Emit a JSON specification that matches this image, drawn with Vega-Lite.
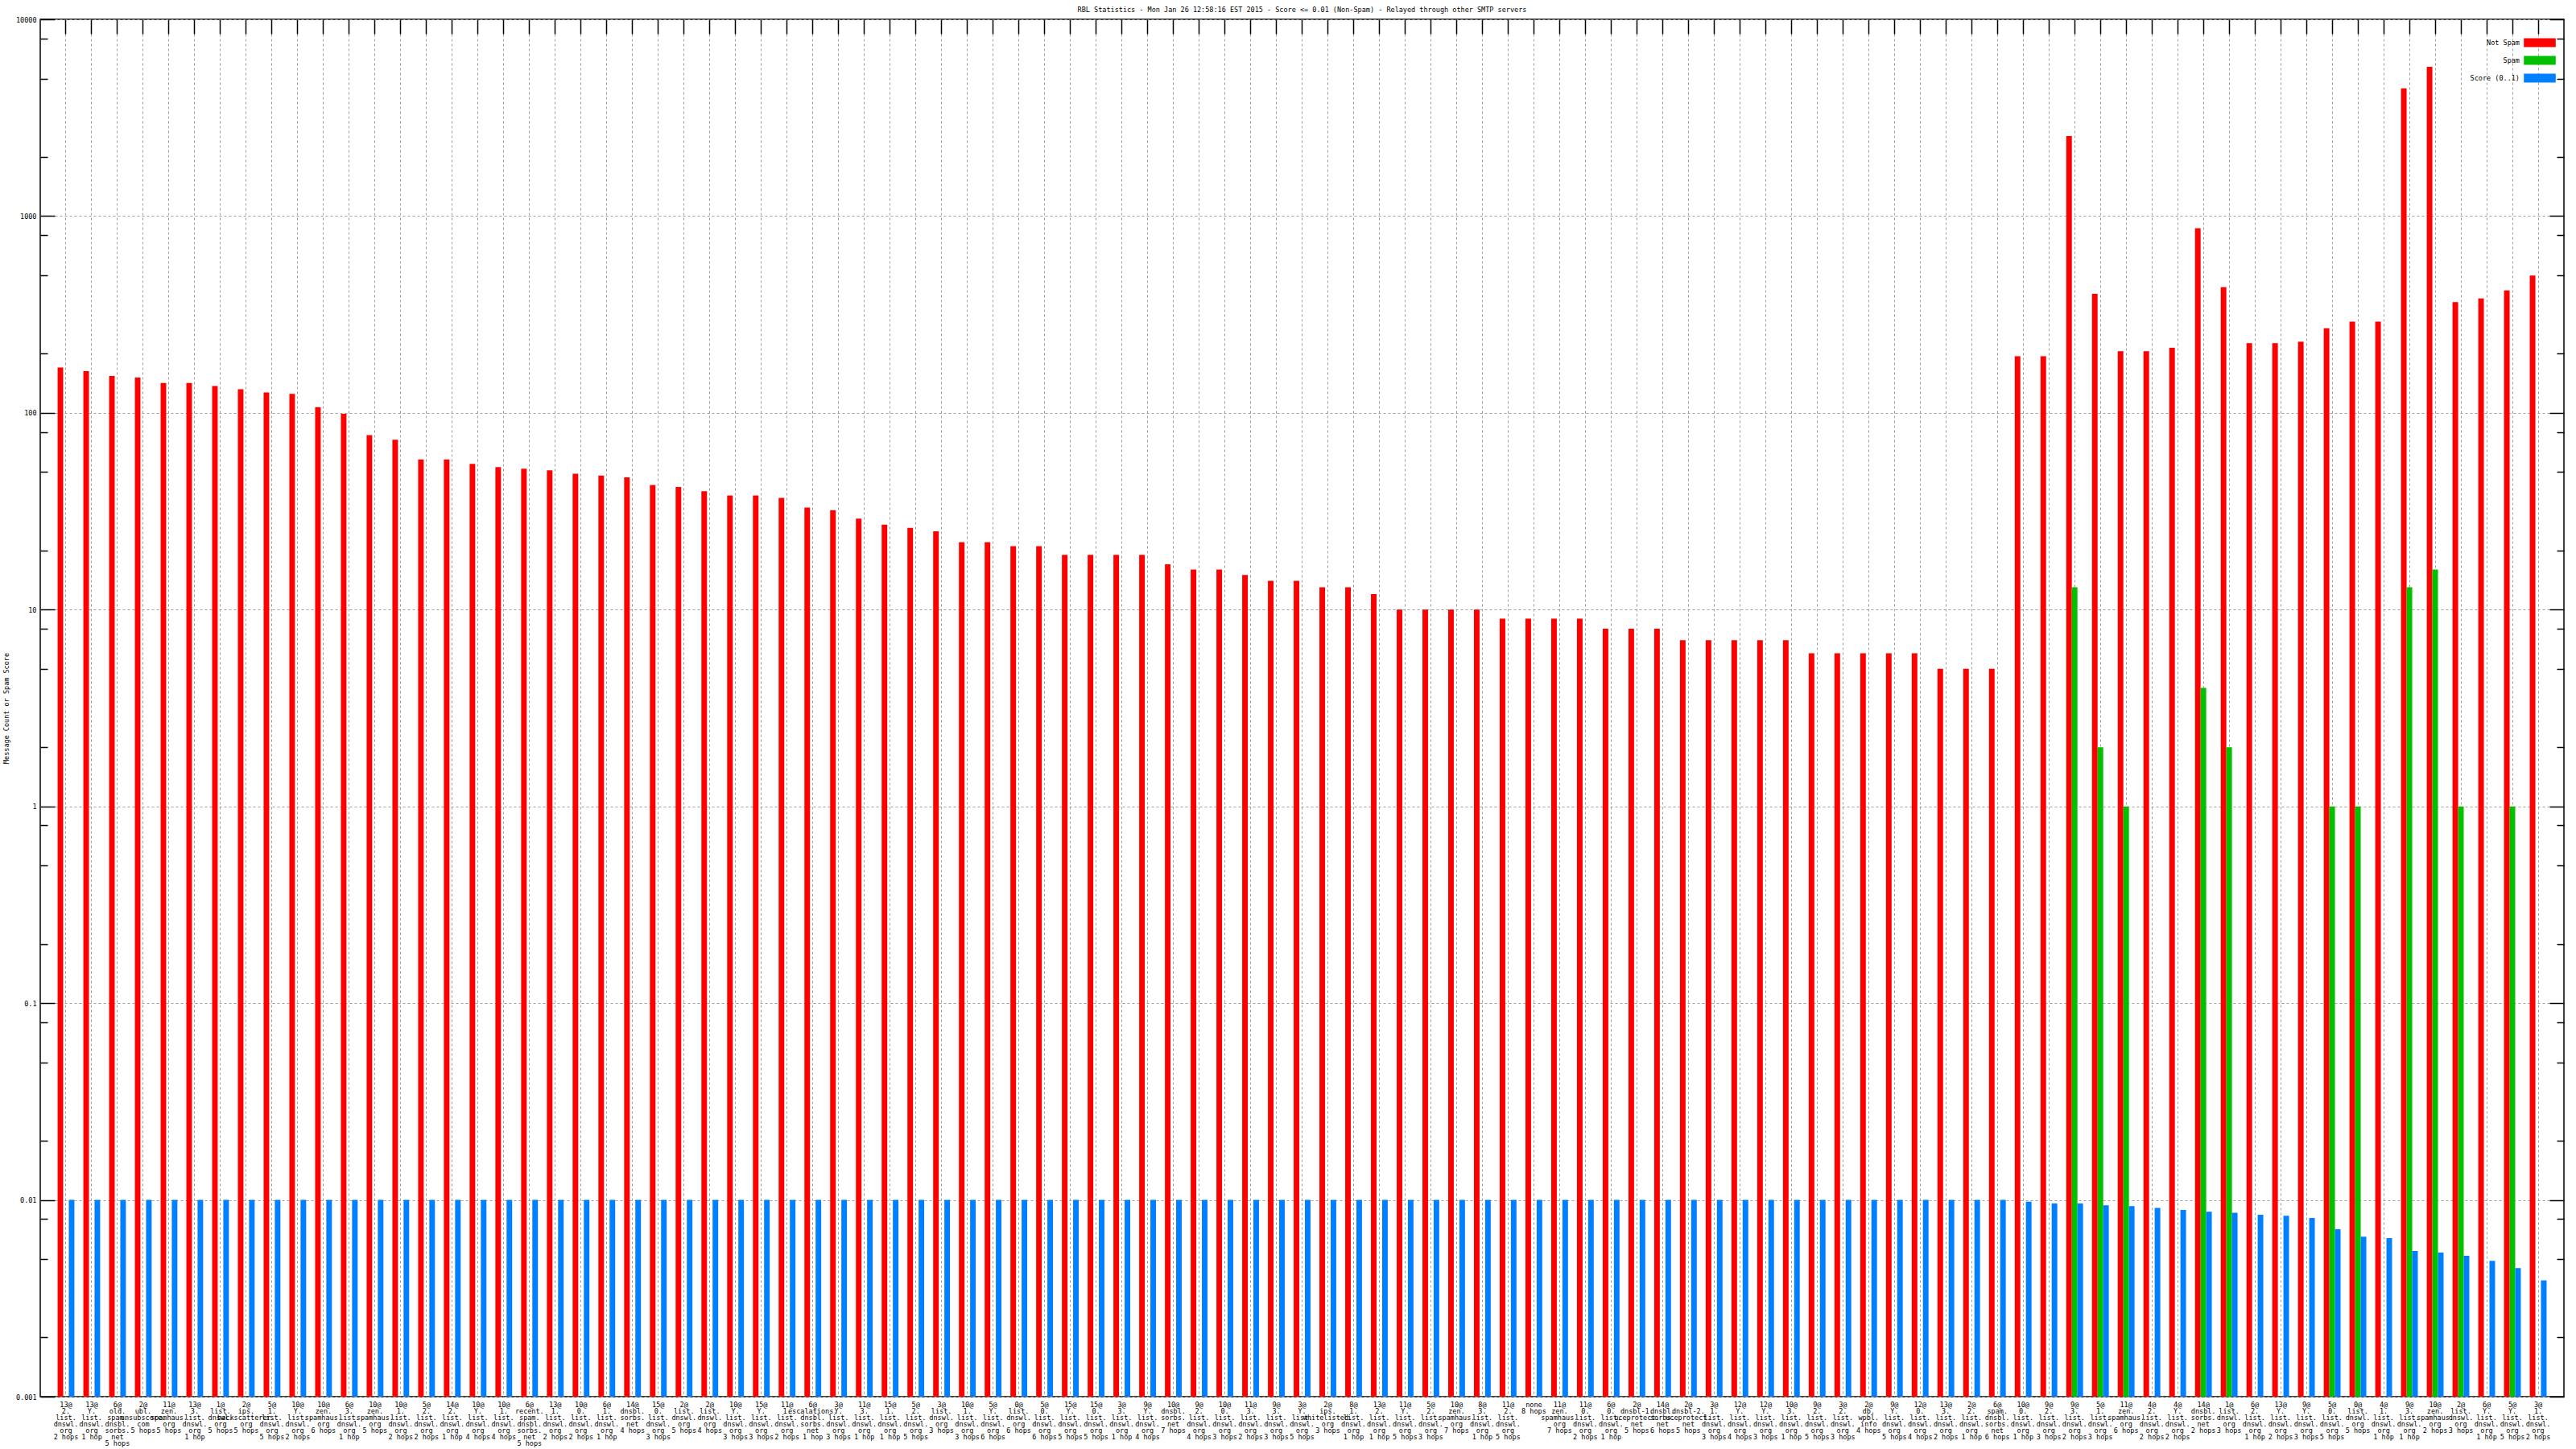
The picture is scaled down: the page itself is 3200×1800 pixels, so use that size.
{
  "$schema": "https://vega.github.io/schema/vega-lite/v6.json",
  "width": 3135,
  "height": 1711,
  "autosize": {"type": "none"},
  "padding": {"left": 50, "top": 24, "right": 15, "bottom": 65},
  "background": "white",
  "title": {"text": "RBL Statistics - Mon Jan 26 12:58:16 EST 2015 - Score <= 0.01 (Non-Spam) - Relayed through other SMTP servers", "anchor": "middle", "frame": "group", "baseline": "middle", "offset": 0, "dy": 0, "fontSize": 8.5, "fontWeight": "normal", "font": "DejaVu Sans Mono", "color": "black"},
  "data": {"values": [
    {"rbl": "13@|2.|list.|dnswl.|org|2 hops", "Not Spam": 170, "Score": 0.01},
    {"rbl": "13@|Y.|list.|dnswl.|org|1 hop", "Not Spam": 163, "Score": 0.01},
    {"rbl": "6@|old.|spam.|dnsbl.|sorbs.|net|5 hops", "Not Spam": 154, "Score": 0.01},
    {"rbl": "2@|ubl.|unsubscore.|com|5 hops", "Not Spam": 151, "Score": 0.01},
    {"rbl": "11@|zen.|spamhaus.|org|5 hops", "Not Spam": 142, "Score": 0.01},
    {"rbl": "13@|3.|list.|dnswl.|org|1 hop", "Not Spam": 142, "Score": 0.01},
    {"rbl": "1@|list.|dnswl.|org|5 hops", "Not Spam": 137, "Score": 0.01},
    {"rbl": "2@|ips.|backscatterer.|org|5 hops", "Not Spam": 132, "Score": 0.01},
    {"rbl": "5@|1.|list.|dnswl.|org|5 hops", "Not Spam": 127, "Score": 0.01},
    {"rbl": "10@|Y.|list.|dnswl.|org|2 hops", "Not Spam": 125, "Score": 0.01},
    {"rbl": "10@|zen.|spamhaus.|org|6 hops", "Not Spam": 107, "Score": 0.01},
    {"rbl": "6@|3.|list.|dnswl.|org|1 hop", "Not Spam": 99, "Score": 0.01},
    {"rbl": "10@|zen.|spamhaus.|org|5 hops", "Not Spam": 77, "Score": 0.01},
    {"rbl": "10@|1.|list.|dnswl.|org|2 hops", "Not Spam": 73, "Score": 0.01},
    {"rbl": "5@|2.|list.|dnswl.|org|2 hops", "Not Spam": 58, "Score": 0.01},
    {"rbl": "14@|2.|list.|dnswl.|org|1 hop", "Not Spam": 58, "Score": 0.01},
    {"rbl": "10@|Y.|list.|dnswl.|org|4 hops", "Not Spam": 55, "Score": 0.01},
    {"rbl": "10@|1.|list.|dnswl.|org|4 hops", "Not Spam": 53, "Score": 0.01},
    {"rbl": "6@|recent.|spam.|dnsbl.|sorbs.|net|5 hops", "Not Spam": 52, "Score": 0.01},
    {"rbl": "13@|1.|list.|dnswl.|org|2 hops", "Not Spam": 51, "Score": 0.01},
    {"rbl": "10@|0.|list.|dnswl.|org|2 hops", "Not Spam": 49, "Score": 0.01},
    {"rbl": "6@|1.|list.|dnswl.|org|1 hop", "Not Spam": 48, "Score": 0.01},
    {"rbl": "14@|dnsbl.|sorbs.|net|4 hops", "Not Spam": 47, "Score": 0.01},
    {"rbl": "15@|0.|list.|dnswl.|org|3 hops", "Not Spam": 43, "Score": 0.01},
    {"rbl": "2@|list.|dnswl.|org|5 hops", "Not Spam": 42, "Score": 0.01},
    {"rbl": "2@|list.|dnswl.|org|4 hops", "Not Spam": 40, "Score": 0.01},
    {"rbl": "10@|Y.|list.|dnswl.|org|3 hops", "Not Spam": 38, "Score": 0.01},
    {"rbl": "15@|Y.|list.|dnswl.|org|3 hops", "Not Spam": 38, "Score": 0.01},
    {"rbl": "11@|1.|list.|dnswl.|org|2 hops", "Not Spam": 37, "Score": 0.01},
    {"rbl": "6@|escalations.|dnsbl.|sorbs.|net|1 hop", "Not Spam": 33, "Score": 0.01},
    {"rbl": "3@|Y.|list.|dnswl.|org|3 hops", "Not Spam": 32, "Score": 0.01},
    {"rbl": "11@|3.|list.|dnswl.|org|1 hop", "Not Spam": 29, "Score": 0.01},
    {"rbl": "15@|1.|list.|dnswl.|org|1 hop", "Not Spam": 27, "Score": 0.01},
    {"rbl": "5@|2.|list.|dnswl.|org|5 hops", "Not Spam": 26, "Score": 0.01},
    {"rbl": "3@|list.|dnswl.|org|3 hops", "Not Spam": 25, "Score": 0.01},
    {"rbl": "10@|1.|list.|dnswl.|org|3 hops", "Not Spam": 22, "Score": 0.01},
    {"rbl": "5@|Y.|list.|dnswl.|org|6 hops", "Not Spam": 22, "Score": 0.01},
    {"rbl": "0@|list.|dnswl.|org|6 hops", "Not Spam": 21, "Score": 0.01},
    {"rbl": "5@|0.|list.|dnswl.|org|6 hops", "Not Spam": 21, "Score": 0.01},
    {"rbl": "15@|Y.|list.|dnswl.|org|5 hops", "Not Spam": 19, "Score": 0.01},
    {"rbl": "15@|0.|list.|dnswl.|org|5 hops", "Not Spam": 19, "Score": 0.01},
    {"rbl": "3@|3.|list.|dnswl.|org|1 hop", "Not Spam": 19, "Score": 0.01},
    {"rbl": "9@|Y.|list.|dnswl.|org|4 hops", "Not Spam": 19, "Score": 0.01},
    {"rbl": "10@|dnsbl.|sorbs.|net|7 hops", "Not Spam": 17, "Score": 0.01},
    {"rbl": "9@|2.|list.|dnswl.|org|4 hops", "Not Spam": 16, "Score": 0.01},
    {"rbl": "10@|0.|list.|dnswl.|org|3 hops", "Not Spam": 16, "Score": 0.01},
    {"rbl": "11@|3.|list.|dnswl.|org|2 hops", "Not Spam": 15, "Score": 0.01},
    {"rbl": "9@|3.|list.|dnswl.|org|3 hops", "Not Spam": 14, "Score": 0.01},
    {"rbl": "3@|Y.|list.|dnswl.|org|5 hops", "Not Spam": 14, "Score": 0.01},
    {"rbl": "2@|ips.|whitelisted.|org|3 hops", "Not Spam": 13, "Score": 0.01},
    {"rbl": "8@|1.|list.|dnswl.|org|1 hop", "Not Spam": 13, "Score": 0.01},
    {"rbl": "13@|2.|list.|dnswl.|org|1 hop", "Not Spam": 12, "Score": 0.01},
    {"rbl": "11@|Y.|list.|dnswl.|org|5 hops", "Not Spam": 10, "Score": 0.01},
    {"rbl": "5@|2.|list.|dnswl.|org|3 hops", "Not Spam": 10, "Score": 0.01},
    {"rbl": "10@|zen.|spamhaus.|org|7 hops", "Not Spam": 10, "Score": 0.01},
    {"rbl": "8@|3.|list.|dnswl.|org|1 hop", "Not Spam": 10, "Score": 0.01},
    {"rbl": "11@|2.|list.|dnswl.|org|5 hops", "Not Spam": 9, "Score": 0.01},
    {"rbl": "none|8 hops", "Not Spam": 9, "Score": 0.01},
    {"rbl": "11@|zen.|spamhaus.|org|7 hops", "Not Spam": 9, "Score": 0.01},
    {"rbl": "11@|0.|list.|dnswl.|org|2 hops", "Not Spam": 9, "Score": 0.01},
    {"rbl": "6@|0.|list.|dnswl.|org|1 hop", "Not Spam": 8, "Score": 0.01},
    {"rbl": "2@|dnsbl-1.|uceprotect.|net|5 hops", "Not Spam": 8, "Score": 0.01},
    {"rbl": "14@|dnsbl.|sorbs.|net|6 hops", "Not Spam": 8, "Score": 0.01},
    {"rbl": "2@|dnsbl-2.|uceprotect.|net|5 hops", "Not Spam": 7, "Score": 0.01},
    {"rbl": "3@|1.|list.|dnswl.|org|3 hops", "Not Spam": 7, "Score": 0.01},
    {"rbl": "12@|Y.|list.|dnswl.|org|4 hops", "Not Spam": 7, "Score": 0.01},
    {"rbl": "12@|Y.|list.|dnswl.|org|3 hops", "Not Spam": 7, "Score": 0.01},
    {"rbl": "10@|3.|list.|dnswl.|org|1 hop", "Not Spam": 7, "Score": 0.01},
    {"rbl": "9@|2.|list.|dnswl.|org|5 hops", "Not Spam": 6, "Score": 0.01},
    {"rbl": "3@|2.|list.|dnswl.|org|3 hops", "Not Spam": 6, "Score": 0.01},
    {"rbl": "2@|db.|wpbl.|info|4 hops", "Not Spam": 6, "Score": 0.01},
    {"rbl": "9@|Y.|list.|dnswl.|org|5 hops", "Not Spam": 6, "Score": 0.01},
    {"rbl": "12@|0.|list.|dnswl.|org|4 hops", "Not Spam": 6, "Score": 0.01},
    {"rbl": "13@|3.|list.|dnswl.|org|2 hops", "Not Spam": 5, "Score": 0.01},
    {"rbl": "2@|2.|list.|dnswl.|org|1 hop", "Not Spam": 5, "Score": 0.01},
    {"rbl": "6@|spam.|dnsbl.|sorbs.|net|6 hops", "Not Spam": 5, "Score": 0.01},
    {"rbl": "10@|0.|list.|dnswl.|org|1 hop", "Not Spam": 194, "Score": 0.0098},
    {"rbl": "9@|2.|list.|dnswl.|org|3 hops", "Not Spam": 194, "Score": 0.0096},
    {"rbl": "9@|3.|list.|dnswl.|org|2 hops", "Not Spam": 2550, "Spam": 13, "Score": 0.0096},
    {"rbl": "5@|1.|list.|dnswl.|org|3 hops", "Not Spam": 403, "Spam": 2, "Score": 0.0094},
    {"rbl": "11@|zen.|spamhaus.|org|6 hops", "Not Spam": 206, "Spam": 1, "Score": 0.0093},
    {"rbl": "4@|2.|list.|dnswl.|org|2 hops", "Not Spam": 206, "Score": 0.0091},
    {"rbl": "4@|Y.|list.|dnswl.|org|2 hops", "Not Spam": 214, "Score": 0.0089},
    {"rbl": "14@|dnsbl.|sorbs.|net|2 hops", "Not Spam": 868, "Spam": 4, "Score": 0.0087},
    {"rbl": "1@|list.|dnswl.|org|3 hops", "Not Spam": 435, "Spam": 2, "Score": 0.0086},
    {"rbl": "6@|2.|list.|dnswl.|org|1 hop", "Not Spam": 226, "Score": 0.0084},
    {"rbl": "13@|Y.|list.|dnswl.|org|2 hops", "Not Spam": 226, "Score": 0.0083},
    {"rbl": "9@|Y.|list.|dnswl.|org|3 hops", "Not Spam": 230, "Score": 0.0081},
    {"rbl": "5@|0.|list.|dnswl.|org|5 hops", "Not Spam": 269, "Spam": 1, "Score": 0.0071},
    {"rbl": "0@|list.|dnswl.|org|5 hops", "Not Spam": 291, "Spam": 1, "Score": 0.0065},
    {"rbl": "4@|1.|list.|dnswl.|org|1 hop", "Not Spam": 291, "Score": 0.0064},
    {"rbl": "9@|3.|list.|dnswl.|org|1 hop", "Not Spam": 4460, "Spam": 13, "Score": 0.0055},
    {"rbl": "10@|zen.|spamhaus.|org|2 hops", "Not Spam": 5730, "Spam": 16, "Score": 0.0054},
    {"rbl": "2@|list.|dnswl.|org|3 hops", "Not Spam": 366, "Spam": 1, "Score": 0.0052},
    {"rbl": "6@|Y.|list.|dnswl.|org|1 hop", "Not Spam": 381, "Score": 0.0049},
    {"rbl": "5@|Y.|list.|dnswl.|org|5 hops", "Not Spam": 419, "Spam": 1, "Score": 0.0045},
    {"rbl": "3@|1.|list.|dnswl.|org|2 hops", "Not Spam": 499, "Score": 0.0039}
  ]},
  "transform": [
    {"fold": ["Not Spam", "Spam", "Score"], "as": ["series", "value"]},
    {"filter": "isValid(datum.value) && datum.value > 0"}
  ],
  "layer": [
    {
      "mark": {"type": "bar"},
      "encoding": {
        "x": {"field": "rbl", "type": "nominal", "sort": null,
          "scale": {"type": "band", "paddingInner": 0, "paddingOuter": 0.5},
          "axis": {"orient": "bottom", "title": null, "labelExpr": "split(datum.label, '|')", "labelAngle": 0, "labelBaseline": "top", "labelAlign": "center", "labelPadding": 5, "labelLineHeight": 8, "labelFontSize": 8.5, "labelOverlap": false, "labelLimit": 0, "ticks": false, "domain": false, "grid": true, "gridColor": "#a0a0a0", "gridDash": [3, 3], "gridWidth": 1, "bandPosition": 0.5}},
        "xOffset": {"field": "series", "type": "nominal", "sort": ["Not Spam", "Spam", "Score"], "scale": {"type": "band", "paddingInner": 0, "paddingOuter": 0.8}},
        "y": {"field": "value", "type": "quantitative", "stack": null,
          "scale": {"type": "log", "domain": [0.001, 10000]},
          "axis": {"orient": "left", "values": [0.001, 0.01, 0.1, 1, 10, 100, 1000, 10000], "labelExpr": "datum.value >= 1 ? format(datum.value, 'd') : format(datum.value, '.3~f')", "ticks": false, "labelPadding": 5, "labelFontSize": 8.5, "labelOverlap": false, "labelFlush": false, "domain": false, "grid": true, "gridColor": "#a0a0a0", "gridDash": [3, 3], "gridWidth": 1, "title": "Message Count or Spam Score", "titleAngle": -90, "titleX": -43, "titleY": 855.5, "titleAlign": "center", "titleBaseline": "middle", "titleFontSize": 8.5, "titleFontWeight": "normal"}},
        "color": {"field": "series", "type": "nominal",
          "scale": {"domain": ["Not Spam", "Spam", "Score"], "range": ["#ff0000", "#00c000", "#0080ff"]},
          "legend": {"title": null, "orient": "none", "legendX": 3094, "legendY": 18, "symbolType": "M-1.8,-0.5H1.8V0.5H-1.8Z", "symbolSize": 484, "symbolStrokeWidth": 0, "symbolOpacity": 1, "labelAlign": "right", "labelOffset": -36, "labelFontSize": 8.5, "labelColor": "black", "labelExpr": "datum.label == 'Score' ? 'Score (0..1)' : datum.label", "rowPadding": 5, "padding": 0}}
      }
    },
    {
      "mark": {"type": "bar", "opacity": 0},
      "encoding": {
        "x": {"field": "rbl", "type": "nominal", "sort": null,
          "axis": {"orient": "top", "title": null, "labels": false, "ticks": true, "tickSize": -18, "tickWidth": 1.5, "tickColor": "black", "domain": false, "grid": false, "bandPosition": 0.5}},
        "y": {"field": "value", "type": "quantitative", "stack": null,
          "axis": {"orient": "left", "title": null, "values": [0.001, 0.01, 0.1, 1, 10, 100, 1000, 10000], "labels": false, "ticks": true, "tickSize": -18, "tickWidth": 1.5, "tickColor": "black", "domain": false, "grid": false}}
      }
    },
    {
      "mark": {"type": "bar", "opacity": 0},
      "encoding": {
        "y": {"field": "value", "type": "quantitative", "stack": null,
          "axis": {"orient": "right", "title": null, "values": [0.001, 0.01, 0.1, 1, 10, 100, 1000, 10000], "labels": false, "ticks": true, "tickSize": -18, "tickWidth": 1.5, "tickColor": "black", "domain": false, "grid": false}}
      }
    },
    {
      "mark": {"type": "bar", "opacity": 0},
      "encoding": {
        "y": {"field": "value", "type": "quantitative", "stack": null,
          "axis": {"orient": "left", "title": null, "values": [0.002, 0.005, 0.008, 0.02, 0.05, 0.08, 0.2, 0.5, 0.8, 2, 5, 8, 20, 50, 80, 200, 500, 800, 2000, 5000, 8000], "labels": false, "ticks": true, "tickSize": -9, "tickWidth": 1.5, "tickColor": "black", "domain": false, "grid": false}}
      }
    },
    {
      "mark": {"type": "bar", "opacity": 0},
      "encoding": {
        "y": {"field": "value", "type": "quantitative", "stack": null,
          "axis": {"orient": "right", "title": null, "values": [0.002, 0.005, 0.008, 0.02, 0.05, 0.08, 0.2, 0.5, 0.8, 2, 5, 8, 20, 50, 80, 200, 500, 800, 2000, 5000, 8000], "labels": false, "ticks": true, "tickSize": -9, "tickWidth": 1.5, "tickColor": "black", "domain": false, "grid": false}}
      }
    }
  ],
  "resolve": {"axis": {"x": "independent", "y": "independent"}},
  "config": {
    "font": "DejaVu Sans Mono",
    "view": {"stroke": "black", "strokeWidth": 1.5},
    "axis": {"labelFont": "DejaVu Sans Mono", "titleFont": "DejaVu Sans Mono", "labelColor": "black", "titleColor": "black", "tickColor": "black"},
    "legend": {"labelFont": "DejaVu Sans Mono"}
  }
}
